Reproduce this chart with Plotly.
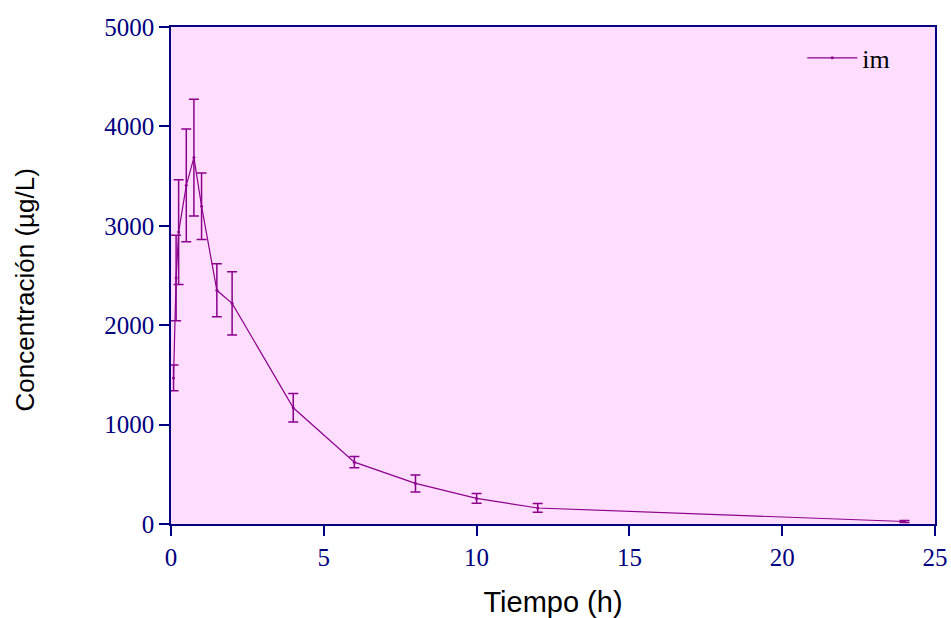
import plotly.graph_objects as go

tiempo = [0.083, 0.167, 0.25, 0.5, 0.75, 1, 1.5, 2, 4, 6, 8, 10, 12, 24]
conc_im = [1470, 2475, 2937, 3407, 3686, 3197, 2351, 2220, 1169, 622, 408, 257, 161, 25]
sd_im = [130, 431, 527, 567, 588, 334, 267, 318, 144, 57, 86, 49, 44, 10]

x_ticks = [0, 5, 10, 15, 20, 25]
y_ticks = [0, 1000, 2000, 3000, 4000, 5000]

purple = "#8B008B"
navy = "#000080"

fig = go.Figure()
fig.add_trace(go.Scatter(
    x=tiempo, y=conc_im, name="im", mode="lines+markers",
    line=dict(color=purple, width=1.2),
    marker=dict(color=purple, size=3),
    error_y=dict(type="data", array=sd_im, visible=True, color=purple, thickness=1.5, width=5),
))

axis_common = dict(
    showline=True, linecolor=navy, linewidth=1.5, mirror=True,
    ticks="outside", ticklen=10, tickcolor=navy, tickwidth=1.5,
    showgrid=False, zeroline=False, automargin=False,
    tickfont=dict(family="Liberation Serif, Times New Roman, serif", size=25, color=navy),
)

title_family = "Liberation Sans Narrow, Arial Narrow, Liberation Sans, Arial, sans-serif"

fig.update_layout(
    width=951, height=618,
    margin=dict(l=171, r=16, t=27, b=94),
    paper_bgcolor="white", plot_bgcolor="#FFDDFF",
    showlegend=True,
    legend=dict(x=0.948, y=0.985, xanchor="right", yanchor="top",
                bgcolor="rgba(0,0,0,0)", itemwidth=50,
                font=dict(family="Liberation Serif, Times New Roman, serif", size=26, color="black")),
    xaxis=dict(range=[0, 25], tickvals=x_ticks,
               title=dict(text="Tiempo (h)", standoff=24,
                          font=dict(family=title_family, size=29, color="black")),
               **axis_common),
    yaxis=dict(range=[0, 5000], tickvals=y_ticks, **axis_common),
    annotations=[dict(
        text="Concentración (µg/L)", textangle=-90,
        xref="paper", yref="paper", x=-0.191, y=0.47,
        xanchor="center", yanchor="middle", showarrow=False,
        font=dict(family=title_family, size=26, color="black"),
    )],
)

fig.write_html("out.html")
